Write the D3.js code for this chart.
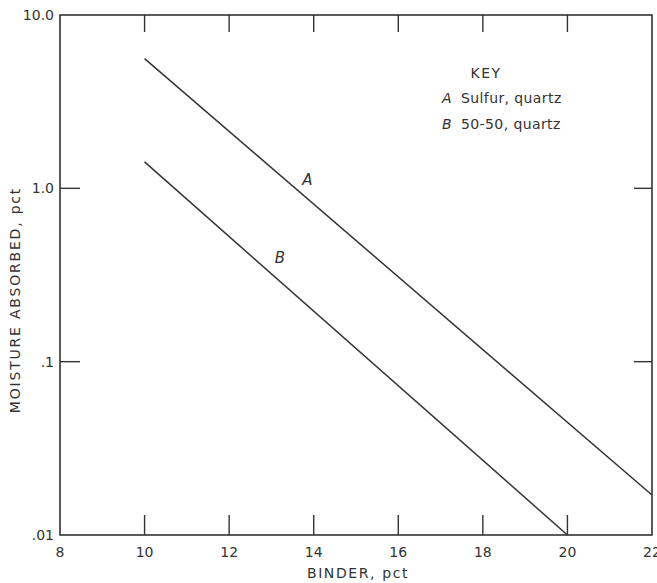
<!DOCTYPE html>
<html>
<head>
<meta charset="utf-8">
<script src="https://cdn.jsdelivr.net/npm/d3@7"></script>
<style>
  body { margin: 0; background: #fff; }
  text { font-family: "DejaVu Sans", sans-serif; fill: #333; }
</style>
</head>
<body>
<div id="chart"></div>
<script>
// Data
var binder = [10, 22];
var sulfurQuartz = [5.6, 0.017];   // line A
var binderB = [10, 20];
var fiftyQuartz = [1.42, 0.01];    // line B

var xTicks = [8, 10, 12, 14, 16, 18, 20, 22];
var yTicks = [10, 1, 0.1, 0.01];
var yTickLabels = ["10.0", "1.0", ".1", ".01"];
var keyLines = [["A", "Sulfur, quartz"], ["B", "50-50, quartz"]];

var W = 657, H = 583;
// plot box (note: "top" is reserved on window, so use a box object)
var box = {left: 60, right: 652, top: 15, bottom: 535};

var svg = d3.select("#chart").append("svg")
    .attr("width", W)
    .attr("height", H);

var x = d3.scaleLinear().domain([8, 22]).range([box.left, box.right]);
var y = d3.scaleLog().domain([0.01, 10]).range([box.bottom, box.top]);

var ink = "#333";

// Frame
svg.append("rect")
    .attr("x", box.left).attr("y", box.top)
    .attr("width", box.right - box.left).attr("height", box.bottom - box.top)
    .attr("fill", "none")
    .attr("stroke", ink)
    .attr("stroke-width", 1.6);

// Inner ticks on all sides
var inner = xTicks.filter(function(d) { return d > 8 && d < 22; });
var tickLen = 20;
svg.append("g").selectAll("line").data(inner).enter().append("line")
    .attr("x1", function(d) { return x(d); }).attr("x2", function(d) { return x(d); })
    .attr("y1", box.bottom).attr("y2", box.bottom - tickLen)
    .attr("stroke", ink).attr("stroke-width", 1.4);
svg.append("g").selectAll("line").data(inner).enter().append("line")
    .attr("x1", function(d) { return x(d); }).attr("x2", function(d) { return x(d); })
    .attr("y1", box.top).attr("y2", box.top + 17)
    .attr("stroke", ink).attr("stroke-width", 1.4);

var yInner = [1, 0.1];
svg.append("g").selectAll("line").data(yInner).enter().append("line")
    .attr("x1", box.left).attr("x2", box.left + tickLen)
    .attr("y1", function(d) { return y(d); }).attr("y2", function(d) { return y(d); })
    .attr("stroke", ink).attr("stroke-width", 1.4);
svg.append("g").selectAll("line").data(yInner).enter().append("line")
    .attr("x1", box.right).attr("x2", box.right - 18)
    .attr("y1", function(d) { return y(d); }).attr("y2", function(d) { return y(d); })
    .attr("stroke", ink).attr("stroke-width", 1.4);

// Tick labels
svg.append("g").selectAll("text").data(xTicks).enter().append("text")
    .attr("x", function(d) { return x(d); })
    .attr("y", box.bottom + 22)
    .attr("text-anchor", "middle")
    .style("font-size", "14px")
    .text(function(d) { return d; });

svg.append("g").selectAll("text").data(yTicks).enter().append("text")
    .attr("x", box.left - 6)
    .attr("y", function(d) { return y(d) + 5; })
    .attr("text-anchor", "end")
    .style("font-size", "14px")
    .text(function(d, i) { return yTickLabels[i]; });

// Axis titles
svg.append("text")
    .attr("x", 358)
    .attr("y", 578)
    .attr("text-anchor", "middle")
    .style("font-size", "14px")
    .style("letter-spacing", "1.6px")
    .text("BINDER, pct");

svg.append("text")
    .attr("transform", "translate(20,300) rotate(-90)")
    .attr("text-anchor", "middle")
    .style("font-size", "14px")
    .style("letter-spacing", "1.8px")
    .text("MOISTURE ABSORBED, pct");

// Lines
var line = d3.line()
    .x(function(d) { return x(d[0]); })
    .y(function(d) { return y(d[1]); });

svg.append("path")
    .datum(d3.zip(binder, sulfurQuartz))
    .attr("fill", "none").attr("stroke", ink).attr("stroke-width", 1.5)
    .attr("d", line);

svg.append("path")
    .datum(d3.zip(binderB, fiftyQuartz))
    .attr("fill", "none").attr("stroke", ink).attr("stroke-width", 1.5)
    .attr("d", line);

// Line letters
svg.append("text")
    .attr("x", x(13.85)).attr("y", y(1.05))
    .attr("text-anchor", "middle")
    .style("font-size", "15px").style("font-style", "italic")
    .text("A");
svg.append("text")
    .attr("x", x(13.2)).attr("y", y(0.37))
    .attr("text-anchor", "middle")
    .style("font-size", "15px").style("font-style", "italic")
    .text("B");

// Key
svg.append("text")
    .attr("x", 486).attr("y", 78)
    .attr("text-anchor", "middle")
    .style("font-size", "14px")
    .style("letter-spacing", "1.5px")
    .text("KEY");

var key = svg.append("g").selectAll("g").data(keyLines).enter().append("g")
    .attr("transform", function(d, i) { return "translate(442," + (103 + i * 26) + ")"; });
key.append("text")
    .style("font-size", "14px").style("font-style", "italic")
    .text(function(d) { return d[0]; });
key.append("text")
    .attr("x", 19)
    .style("font-size", "14px")
    .style("letter-spacing", "0.4px")
    .text(function(d) { return d[1]; });
</script>
</body>
</html>
